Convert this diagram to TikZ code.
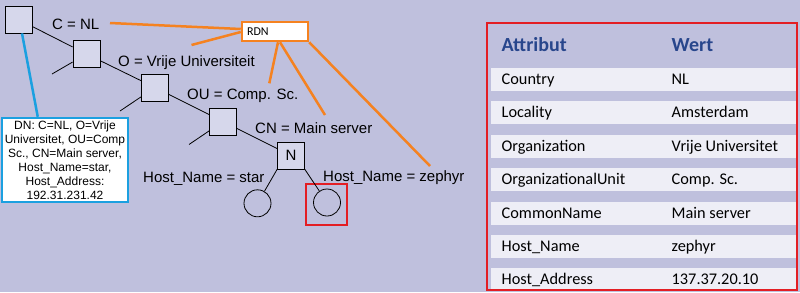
\documentclass[tikz,border=0pt]{standalone}
\usepackage{fontspec}
\newfontfamily\labelfont{Liberation Sans}
\newfontfamily\tablefont{Carlito}
\definecolor{lavender}{RGB}{191,192,221}
\definecolor{boxfill}{RGB}{214,215,235}
\definecolor{rdnorange}{RGB}{245,130,32}
\definecolor{dnblue}{RGB}{27,160,224}
\definecolor{framered}{RGB}{227,30,36}
\definecolor{headblue}{RGB}{40,70,140}
\definecolor{rowfill}{RGB}{238,238,246}

\begin{document}
\begin{tikzpicture}[
                x=1pt, y=-1pt,
                entry/.style={rectangle,draw=black,fill=boxfill,minimum size=27pt,inner sep=0pt,line width=0.8pt,font=\labelfont\fontsize{15}{18}\selectfont},
                leaf/.style={circle,draw=black,minimum size=27pt,inner sep=0pt,line width=0.8pt},
                rdnlabel/.style={anchor=base west,inner sep=0pt,font=\labelfont\fontsize{15}{18}\selectfont},
                treeline/.style={line width=0.8pt},
                rdnline/.style={draw=rdnorange,line width=2.5pt},
                rdnbox/.style={rectangle,draw=rdnorange,fill=white,line width=2.5pt,minimum height=19pt,text width=56pt,inner xsep=5pt,inner ysep=0pt,align=left,font=\tablefont\fontsize{12}{14}\selectfont},
                dnbox/.style={rectangle,draw=dnblue,fill=white,line width=2.5pt,minimum width=126pt,minimum height=84pt,inner sep=0pt,align=center,font=\labelfont\fontsize{12}{14.1}\selectfont},
                hostbox/.style={rectangle,draw=framered,line width=2.5pt,minimum size=41pt,inner sep=0pt},
                headcell/.style={anchor=base west,inner sep=0pt,text=headblue,font=\tablefont\bfseries\fontsize{20}{24}\selectfont},
                cell/.style={anchor=base west,inner sep=0pt,font=\tablefont\fontsize{16.3}{19}\selectfont}
            ]

            \useasboundingbox (0,0) rectangle (800,292);
            \fill[lavender] (0,0) rectangle (800,292);

            \node[entry] (sq1) at (18.5,19.5) {};
            \node[entry] (sq2) at (86.5,54) {};
            \node[entry] (sq3) at (155,87.5) {};
            \node[entry] (sq4) at (223,121.5) {};
            \node[entry] (nodeN) at (291,155.5) {N};
            \node[leaf] (hoststar) at (257.5,203.3) {};
            \node[leaf] (hostzephyr) at (327,202.5) {};
            \node[hostbox] (zephyrbox) at (326.5,204.5) {};

            \coordinate (stub2) at (52,74);
            \coordinate (stub3) at (120,111);
            \coordinate (stub4) at (189,144.5);

            \draw[treeline] (sq1) -- (sq2);
            \draw[treeline] (sq2) -- (sq3);
            \draw[treeline] (sq3) -- (sq4);
            \draw[treeline] (sq4) -- (nodeN);
            \foreach \k in {2,3,4}
                \draw[treeline] (sq\k) -- (stub\k);
            \draw[treeline] (nodeN.south west) -- (hoststar);
            \draw[treeline] (nodeN.south east) -- (hostzephyr);

            \node[rdnlabel] (lblC) at (52,29.5) {C = NL};
            \node[rdnlabel] (lblO) at (118,66) {O = Vrije Universiteit};
            \node[rdnlabel] (lblOU) at (187,99) {OU = Comp. Sc.};
            \node[rdnlabel] (lblCN) at (255,133) {CN = Main server};
            \node[rdnlabel] (lblstar) at (143,182) {Host\_Name = star};
            \node[rdnlabel] (lblzephyr) at (323,181) {Host\_Name = zephyr};

            \node[rdnbox] (rdn) at (275,31.5) {RDN};
            \coordinate (rdnC) at (110,23);
            \coordinate (rdnO) at (191.5,45);
            \coordinate (rdnOU) at (269.3,83.3);
            \coordinate (rdnCN) at (325,115);
            \coordinate (rdnHost) at (430,166);
            \draw[rdnline] (rdnC) -- ([yshift=2.5pt]rdn.west);
            \draw[rdnline] (rdnO) -- ([yshift=-0.5pt]rdn.west);
            \draw[rdnline] ([xshift=3pt]rdn.south) -- (rdnOU);
            \draw[rdnline] ([xshift=5pt]rdn.south) -- (rdnCN);
            \draw[rdnline] (rdn.south east) -- (rdnHost);

            \node[dnbox] (dn) at (65,160) {DN: C=NL, O=Vrije\\Universitet, OU=Comp\\Sc., CN=Main server,\\Host\_Name=star,\\Host\_Address:\\192.31.231.42};
            \draw[draw=dnblue,line width=2.5pt] ([xshift=3.5pt]sq1.south) -- ([xshift=37pt]dn.north west);

            \node[headcell] (headattr) at (501.5,51.5) {Attribut};
            \node[headcell] (headval) at (671.5,51.5) {Wert};
            \foreach \attr/\val [count=\i] in {Country/NL, Locality/Amsterdam, Organization/Vrije Universitet, OrganizationalUnit/Comp. Sc., CommonName/Main server, Host\_Name/zephyr, Host\_Address/137.37.20.10} {
                \pgfmathsetmacro\rowtop{68+33.4*(\i-1)}
                \fill[rowfill] (491,\rowtop) rectangle (797,\rowtop+23);
                \node[cell] (attr\i) at (501.5,\rowtop+16.5) {\attr};
                \node[cell] (val\i) at (671.5,\rowtop+16.5) {\val};
            }
            \draw[framered,line width=2.5pt] (487,23) rectangle (797,290);

        \end{tikzpicture}
\end{document}
